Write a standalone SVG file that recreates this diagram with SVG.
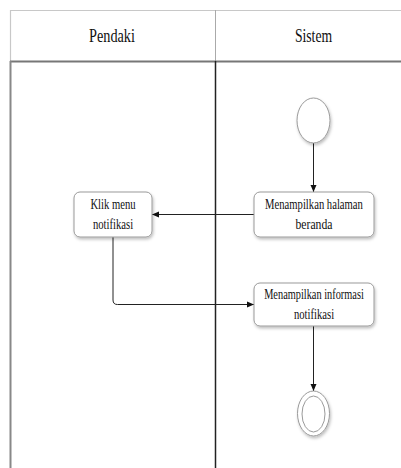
<svg xmlns="http://www.w3.org/2000/svg" width="401" height="468" viewBox="0 0 401 468">
  <style>
    .lane-head { font-family: "Liberation Serif", "Times New Roman", serif; font-size: 19px; fill: #111; text-anchor: middle; }
    .label { font-family: "Liberation Serif", "Times New Roman", serif; font-size: 15px; fill: #111; text-anchor: middle; }
    .box { fill: #fff; stroke: #9a9a9a; stroke-width: 1; }
    .node-circle { fill: #fff; stroke: #9a9a9a; stroke-width: 1; }
    .edge { fill: none; stroke: #222; stroke-width: 1; }
  </style>
  <defs>
    <filter id="shadow" x="-20%" y="-20%" width="140%" height="150%">
      <feDropShadow dx="1" dy="2" stdDeviation="1.5" flood-color="#000" flood-opacity="0.25"/>
    </filter>
    <marker id="arrow" markerWidth="8" markerHeight="8" refX="7" refY="4" orient="auto" markerUnits="userSpaceOnUse">
      <path d="M0,1 L7,4 L0,7 Z" fill="#111"/>
    </marker>
  </defs>

  <rect width="401" height="468" fill="#fff"/>

  <!-- swimlane frame -->
  <g id="lanes">
    <line x1="10" y1="10.5" x2="401" y2="10.5" stroke="#c8c8c8" stroke-width="1.2"/>
    <line x1="10.5" y1="10" x2="10.5" y2="61" stroke="#c8c8c8" stroke-width="1.2"/>
    <line x1="215.5" y1="10" x2="215.5" y2="61" stroke="#aaa" stroke-width="1"/>
    <line x1="10" y1="61.5" x2="401" y2="61.5" stroke="#777" stroke-width="2"/>
    <line x1="10.5" y1="61" x2="10.5" y2="468" stroke="#888" stroke-width="2"/>
    <line x1="215.5" y1="61" x2="215.5" y2="468" stroke="#222" stroke-width="1.5"/>
    <text class="lane-head" transform="translate(112 42) scale(0.75 1)">Pendaki</text>
    <text class="lane-head" transform="translate(313.5 42) scale(0.72 1)">Sistem</text>
  </g>

  <!-- connectors -->
  <g id="connectors">
    <path class="edge" d="M313.5 143 V192" marker-end="url(#arrow)"/>
    <path class="edge" d="M254 214.5 H152" marker-end="url(#arrow)"/>
    <path class="edge" d="M113 237 V300 Q113 304.5 117.5 304.5 H254" marker-end="url(#arrow)"/>
    <path class="edge" d="M313.5 326 V391" marker-end="url(#arrow)"/>
  </g>

  <g id="start">
    <ellipse class="node-circle" cx="313.5" cy="120.5" rx="16.5" ry="22.5" filter="url(#shadow)"/>
  </g>

  <!-- labels are drawn in a narrowed serif face -->
  <g id="halaman-beranda">
    <rect class="box" x="254" y="192" width="120" height="45" rx="6" filter="url(#shadow)"/>
    <text class="label" transform="translate(314 209) scale(0.71 1)">Menampilkan halaman</text>
    <text class="label" transform="translate(314 229) scale(0.78 1)">beranda</text>
  </g>

  <g id="klik-menu">
    <rect class="box" x="74" y="192" width="78" height="45" rx="6" filter="url(#shadow)"/>
    <text class="label" transform="translate(113 209) scale(0.71 1)">Klik menu</text>
    <text class="label" transform="translate(113 229) scale(0.71 1)">notifikasi</text>
  </g>

  <g id="informasi-notifikasi">
    <rect class="box" x="254" y="283" width="120" height="43" rx="6" filter="url(#shadow)"/>
    <text class="label" transform="translate(314 299) scale(0.69 1)">Menampilkan informasi</text>
    <text class="label" transform="translate(314 319) scale(0.71 1)">notifikasi</text>
  </g>

  <g id="end">
    <ellipse class="node-circle" cx="313.5" cy="413.5" rx="16" ry="22.5" filter="url(#shadow)"/>
    <ellipse class="node-circle" cx="313.5" cy="414" rx="11.5" ry="18"/>
  </g>
</svg>
